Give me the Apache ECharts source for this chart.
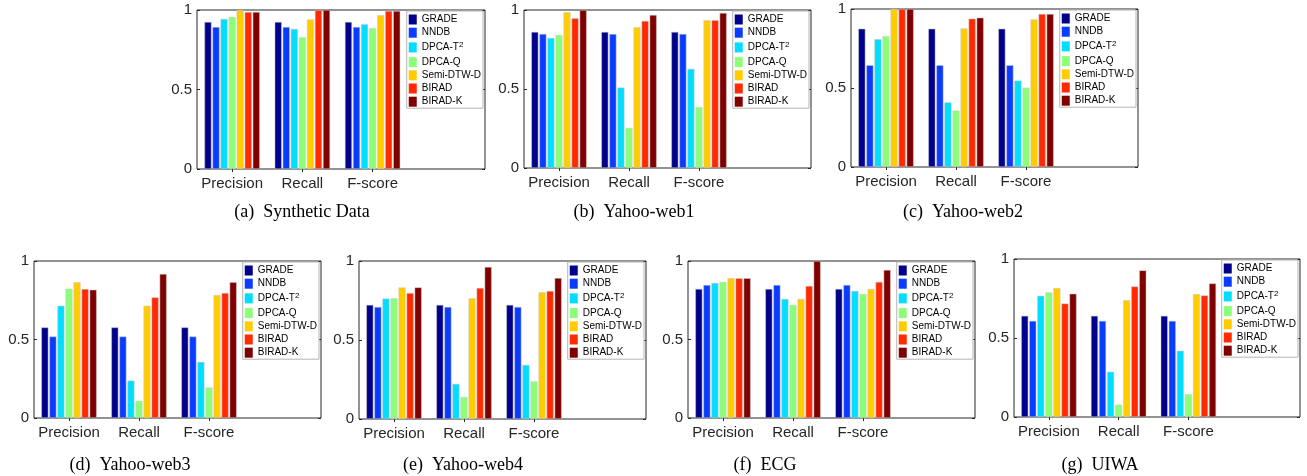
<!DOCTYPE html>
<html><head><meta charset="utf-8">
<script src="https://cdn.jsdelivr.net/npm/echarts@6/dist/echarts.min.js"></script>
<style>html,body{margin:0;padding:0;background:#fff}#c{width:1307px;height:476px}</style>
</head><body><div id="c"></div><script>
// ---------- data ----------
const categories = ['Precision', 'Recall', 'F-score'];
const methods = ['GRADE', 'NNDB', 'DPCA-T²', 'DPCA-Q', 'Semi-DTW-D', 'BIRAD', 'BIRAD-K'];
const yTickValues = [0, 0.5, 1];
const captions = ['(a)  Synthetic Data', '(b)  Yahoo-web1', '(c)  Yahoo-web2',
  '(d)  Yahoo-web3', '(e)  Yahoo-web4', '(f)  ECG', '(g)  UIWA'];

// rows = methods (same order as `methods`), columns = Precision, Recall, F-score
const syntheticData = [
  [0.925, 0.925, 0.925], [0.893, 0.893, 0.893], [0.944, 0.881, 0.910], [0.956, 0.828, 0.885],
  [1.000, 0.941, 0.967], [0.987, 1.000, 0.994], [0.987, 1.000, 0.994]];
const yahooWeb1 = [
  [0.861, 0.861, 0.861], [0.848, 0.848, 0.848], [0.823, 0.509, 0.627], [0.842, 0.253, 0.385],
  [0.985, 0.891, 0.935], [0.947, 0.931, 0.935], [1.000, 0.968, 0.981]];
const yahooWeb2 = [
  [0.875, 0.875, 0.875], [0.644, 0.644, 0.644], [0.809, 0.409, 0.547], [0.828, 0.358, 0.502],
  [1.000, 0.877, 0.934], [1.000, 0.939, 0.968], [1.000, 0.945, 0.968]];
const yahooWeb3 = [
  [0.577, 0.577, 0.577], [0.519, 0.519, 0.519], [0.715, 0.238, 0.357], [0.823, 0.109, 0.194],
  [0.864, 0.715, 0.783], [0.821, 0.768, 0.796], [0.817, 0.917, 0.864]];
const yahooWeb4 = [
  [0.722, 0.722, 0.722], [0.709, 0.709, 0.709], [0.762, 0.222, 0.342], [0.764, 0.139, 0.238],
  [0.833, 0.764, 0.802], [0.797, 0.829, 0.810], [0.833, 0.962, 0.892]];
const ecgData = [
  [0.822, 0.822, 0.822], [0.847, 0.847, 0.847], [0.860, 0.758, 0.809], [0.867, 0.720, 0.790],
  [0.890, 0.758, 0.822], [0.890, 0.841, 0.867], [0.890, 1.000, 0.943]];
const uiwaData = [
  [0.640, 0.640, 0.640], [0.608, 0.608, 0.608], [0.767, 0.286, 0.419], [0.788, 0.078, 0.144],
  [0.816, 0.739, 0.778], [0.718, 0.826, 0.769], [0.780, 0.928, 0.845]];

const panelData = [syntheticData, yahooWeb1, yahooWeb2, yahooWeb3, yahooWeb4, ecgData, uiwaData];

// ---------- style / layout ----------
const colors = ['#00008c', '#0a3cff', '#00ddff', '#8cff78', '#ffcc00', '#ff2a00', '#800000'];
const W = 1307;
const layout = [
  {left: 197, top: 10, width: 288, height: 159, cap: 302, capTop: 203},
  {left: 524, top: 10, width: 287, height: 158, cap: 634, capTop: 203},
  {left: 851, top: 9, width: 287, height: 158, cap: 963, capTop: 203},
  {left: 34, top: 261, width: 287, height: 157, cap: 130, capTop: 456},
  {left: 359, top: 261, width: 287, height: 158, cap: 463, capTop: 456},
  {left: 688, top: 261, width: 287, height: 157, cap: 765, capTop: 456},
  {left: 1014, top: 259, width: 286, height: 158, cap: 1100, capTop: 456}
];
const axisColor = '#262626';
const sansFont = 'Liberation Sans';
const catPositions = categories.map((c, i) => i + 1);

const option = {
  animation: false,
  backgroundColor: '#fff',
  title: [], grid: [], xAxis: [], yAxis: [], legend: [], series: []
};

layout.forEach((l, i) => {
  option.grid.push({
    left: l.left, top: l.top, width: l.width, height: l.height,
    show: true, borderColor: axisColor, borderWidth: 1, backgroundColor: '#fff',
    containLabel: false, outerBoundsMode: 'none'
  });
  const xBase = {
    type: 'value', gridIndex: i, min: 0.5, max: 4.6,
    axisLine: {show: false}, splitLine: {show: false},
    axisTick: {show: true, inside: true, length: 3, customValues: catPositions,
      lineStyle: {color: axisColor, width: 1}}
  };
  option.xAxis.push(Object.assign({}, xBase, {
    position: 'bottom',
    axisLabel: {show: true, customValues: catPositions, formatter: v => categories[Math.round(v) - 1] || '',
      fontSize: 15, color: axisColor, fontFamily: sansFont, margin: 7}
  }));
  option.xAxis.push(Object.assign({}, xBase, {position: 'top', axisLabel: {show: false}}));
  const yBase = {
    type: 'value', gridIndex: i, min: 0, max: 1, interval: 0.5,
    axisLine: {show: false}, splitLine: {show: false},
    axisTick: {show: true, inside: true, length: 3, lineStyle: {color: axisColor, width: 1}}
  };
  option.yAxis.push(Object.assign({}, yBase, {
    position: 'left',
    axisLabel: {show: true, fontSize: 15, color: axisColor, fontFamily: sansFont, margin: 5,
      customValues: yTickValues, formatter: v => String(v)}
  }));
  option.yAxis.push(Object.assign({}, yBase, {position: 'right', axisLabel: {show: false}}));

  option.legend.push({
    data: methods, orient: 'vertical', selectedMode: false,
    right: W - (l.left + l.width) + 2, top: l.top + 1,
    icon: 'rect', itemWidth: 8, itemHeight: 10, itemGap: 2.2,
    itemStyle: {borderWidth: 0},
    padding: [3, 2, 1, 2], backgroundColor: '#fff', borderColor: '#b4b4b4', borderWidth: 1,
    formatter: name => name === 'DPCA-T²' ? '{b|DPCA-T}{s|2}' : name,
    textStyle: {fontSize: 10, color: '#000', fontFamily: sansFont, lineHeight: 11,
      rich: {
        b: {fontSize: 10, color: '#000', fontFamily: sansFont, lineHeight: 11},
        s: {fontSize: 8, color: '#000', fontFamily: sansFont, lineHeight: 8, padding: [0, 0, 6, 0]}
      }}
  });

  option.title.push({
    text: captions[i], left: l.cap, top: l.capTop, textAlign: 'center', padding: 0,
    textStyle: {fontFamily: 'Liberation Serif', fontSize: 18, fontWeight: 'normal', color: '#000'}
  });

  methods.forEach((m, k) => {
    option.series.push({
      type: 'bar', name: m, xAxisIndex: 2 * i, yAxisIndex: 2 * i,
      data: categories.map((c, j) => [catPositions[j], panelData[i][k][j]]),
      barWidth: 7, barGap: '15%',
      itemStyle: {color: colors[k], borderColor: '#c8c8c8', borderWidth: 0.5}
    });
  });
});

const chart = echarts.init(document.getElementById('c'), null, {renderer: 'canvas'});
chart.setOption(option);
</script></body></html>
